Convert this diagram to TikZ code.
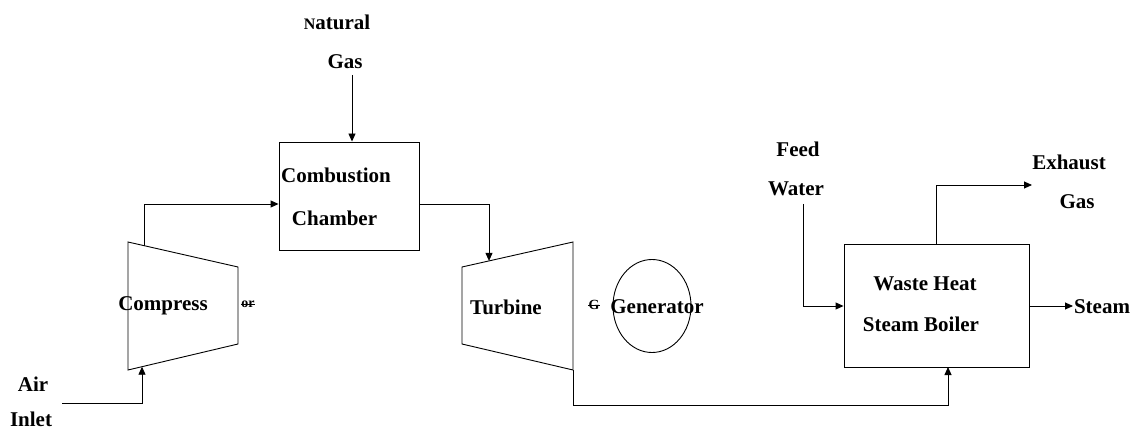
\documentclass[tikz,border=0pt]{standalone}
\usepackage{fontspec}
\setmainfont{Liberation Serif}
\usetikzlibrary{arrows.meta,shapes.geometric}
\begin{document}
\begin{tikzpicture}[x=1pt,y=-1pt,
  lbl/.style={font=\fontsize{21}{21}\selectfont\bfseries, inner sep=0pt},
  small/.style={font=\fontsize{14}{14}\selectfont\bfseries, inner sep=0pt},
  line/.style={line width=0.9pt},
  flow/.style={line width=0.9pt,-{Triangle[length=8pt,width=7pt]}},
  unit/.style={draw, line width=0.9pt, inner sep=0pt}]
\useasboundingbox (0,0) rectangle (1134,430);
% boxes
\node[unit, minimum width=140pt, minimum height=108pt] (cc) at (349,196) {};
\node[unit, minimum width=185pt, minimum height=123pt] (hb) at (936.5,305.5) {};
% compressor and turbine
\coordinate (c1) at (128,242); \coordinate (c2) at (238,267);
\coordinate (c3) at (238,344); \coordinate (c4) at (128,370);
\draw[line] (c1) -- (c2) -- (c3) -- (c4) -- cycle;
\coordinate (t1) at (462,267); \coordinate (t2) at (573,242);
\coordinate (t3) at (573,370); \coordinate (t4) at (462,344);
\draw[line] (t1) -- (t2) -- (t3) -- (t4) -- cycle;
\node[draw, ellipse, line width=0.9pt, minimum width=78pt, minimum height=93pt, inner sep=0pt] (gen) at (652,306) {};
% texts
\node[lbl] (ng1) at (337,22) {{\fontsize{16}{16}\selectfont N}atural};
\node[lbl] (ng2) at (345,62) {Gas};
\node[lbl] (cct1) at (336,175) {Combustion};
\node[lbl] (cct2) at (334.5,218) {Chamber};
\node[lbl] (ct) at (163,306) {Compress};
\node[small] (ct2) at (248,304) {or};
\draw[line width=0.7pt] (ct2.west) -- (ct2.east);
\node[lbl] (tt) at (506,307) {Turbine};
\node[small] (gt) at (594,305) {G};
\draw[line width=0.7pt] (gt.west) -- (gt.east);
\node[lbl] (gent) at (657,307) {Generator};
\node[lbl] (air1) at (33,384) {Air};
\node[lbl] (air2) at (31,419) {Inlet};
\node[lbl] (fw1) at (798,149) {Feed};
\node[lbl] (fw2) at (796,189) {Water};
\node[lbl] (ex1) at (1069,162) {Exhaust};
\node[lbl] (ex2) at (1077,202) {Gas};
\node[lbl] (hbt1) at (925,284) {Waste Heat};
\node[lbl] (hbt2) at (921,324) {Steam Boiler};
\node[lbl] (st) at (1102,307) {Steam};
% connector ends
\coordinate (ngs) at (352,75);
\coordinate (cout) at (144,245.6);
\coordinate (ain) at (62,403);
\coordinate (ainend) at (142,366.7);
\coordinate (tin) at (489,260.9);
\coordinate (fws) at (803,204);
\coordinate (exe) at (1032,185);
\coordinate (ste) at (1073,306);
% connectors
\draw[flow] (ngs) -- (ngs |- cc.north);
\draw[flow] (cout) |- (cc.west |- 0,204);
\draw[flow] (ain) -| (ainend);
\draw[flow] (cc.east |- 0,204) -| (tin);
\draw[flow] (t3) |- (948,405) -- (948,367);
\draw[flow] (fws) |- (hb.west |- 0,306);
\draw[flow] (hb.east |- 0,306) -- (ste);
\draw[flow] (936,244) |- (exe);
\end{tikzpicture}
\end{document}
